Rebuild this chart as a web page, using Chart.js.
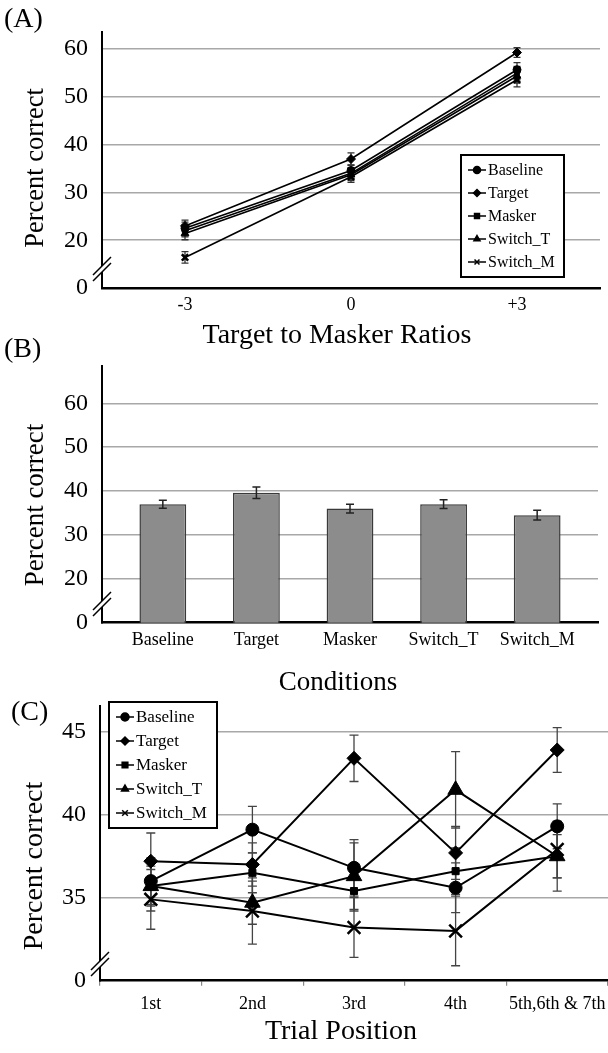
<!DOCTYPE html>
<html>
<head>
<meta charset="utf-8">
<script src="https://cdn.jsdelivr.net/npm/chart.js@4.4.0/dist/chart.umd.min.js"></script>
<style>
  body { margin: 0; background: #fff; }
  #page { position: relative; width: 608px; height: 1053px; overflow: hidden; font-family: "Liberation Serif", "Times New Roman", serif; color: #000; }
  canvas { position: absolute; left: 0; }
  .tag { position: absolute; font-size: 28px; line-height: 32px; }
  .xtitle { position: absolute; width: 400px; text-align: center; white-space: nowrap; }
  .ytitle { position: absolute; width: 240px; height: 32px; line-height: 32px; text-align: center; white-space: nowrap; transform: rotate(-90deg); }
</style>
</head>
<body>
<div id="page">
  <canvas id="chartA" width="608" height="360" style="top:0px"></canvas>
  <canvas id="chartB" width="608" height="365" style="top:345px"></canvas>
  <canvas id="chartC" width="608" height="363" style="top:690px"></canvas>
  <div class="tag" style="left:4px; top:2px">(A)</div>
  <div class="tag" style="left:4px; top:332px">(B)</div>
  <div class="tag" style="left:11px; top:695px">(C)</div>
  <div class="ytitle" style="left:-86px; top:152px; font-size:26.5px">Percent correct</div>
  <div class="ytitle" style="left:-86px; top:489px; font-size:27px">Percent correct</div>
  <div class="ytitle" style="left:-87px; top:850px; font-size:28px">Percent correct</div>
  <div class="xtitle" style="left:137px; top:318px; font-size:28px; line-height:32px">Target to Masker Ratios</div>
  <div class="xtitle" style="left:138px; top:665px; font-size:27px; line-height:32px">Conditions</div>
  <div class="xtitle" style="left:141px; top:1014px; font-size:28px; line-height:32px">Trial Position</div>
</div>
<script>
const serif = "'Liberation Serif', 'Times New Roman', serif";
Chart.defaults.font.family = serif;
Chart.defaults.color = '#000';

// shared
const seriesNames = ['Baseline', 'Target', 'Masker', 'Switch_T', 'Switch_M'];
const markerStyles = ['circle', 'rectRot', 'rect', 'triangle', 'crossRot'];

// (A) percent correct by target to masker ratio
const ratioLabels = ['-3', '0', '+3'];
const ratioBaseline = [22.5, 34.6, 55.7];
const ratioTarget = [23.0, 37.0, 59.3];
const ratioMasker = [22.0, 34.0, 55.0];
const ratioSwitchT = [21.4, 33.7, 54.4];
const ratioSwitchM = [16.4, 33.3, 53.6];
const ratioErrBaseline = [1.3, 1.2, 1.5];
const ratioErrTarget = [1.2, 1.3, 1.0];
const ratioErrMasker = [1.3, 1.2, 1.4];
const ratioErrSwitchT = [1.3, 1.2, 1.5];
const ratioErrSwitchM = [1.2, 1.2, 1.5];
const ratioTicks = [10, 20, 30, 40, 50, 60];
const ratioTickText = ['0', '20', '30', '40', '50', '60'];

// (B) percent correct by condition
const conditionLabels = ['Baseline', 'Target', 'Masker', 'Switch_T', 'Switch_M'];
const conditionValues = [37.0, 39.6, 36.0, 37.0, 34.5];
const conditionErr = [0.9, 1.3, 1.0, 1.0, 1.1];
const conditionTicks = [10, 20, 30, 40, 50, 60];
const conditionTickText = ['0', '20', '30', '40', '50', '60'];

// (C) percent correct by trial position
const trialLabels = ['1st', '2nd', '3rd', '4th', '5th,6th & 7th'];
const trialBaseline = [36.0, 39.1, 36.8, 35.6, 39.3];
const trialTarget = [37.2, 37.0, 43.4, 37.7, 43.9];
const trialMasker = [35.7, 36.5, 35.4, 36.6, 37.5];
const trialSwitchT = [35.7, 34.7, 36.3, 41.5, 37.5];
const trialSwitchM = [34.9, 34.2, 33.2, 33.0, 37.9];
const trialErrBaseline = [1.4, 1.4, 1.7, 1.5, 1.35];
const trialErrTarget = [1.7, 1.3, 1.4, 1.6, 1.35];
const trialErrMasker = [1.2, 1.2, 1.2, 1.4, 1.3];
const trialErrSwitchT = [1.5, 1.3, 2.0, 2.3, 2.1];
const trialErrSwitchM = [1.8, 2.0, 1.8, 2.1, 1.7];
const trialTicks = [30, 35, 40, 45];
const trialTickText = ['0', '35', '40', '45'];

// marker radius per point style, small for (A), large for (C)
const markerSizeA = { circle: 4, rectRot: 4.5, rect: 3.3, triangle: 4.5, crossRot: 4.5 };
const markerSizeC = { circle: 6.5, rectRot: 7, rect: 5, triangle: 9, crossRot: 9 };

// error bars drawn from dataset.errors through the y scale
const errorBars = {
  id: 'errorBars',
  draw(chart, opts) {
    const ctx = chart.ctx;
    const yScale = chart.scales.y;
    ctx.save();
    ctx.strokeStyle = opts.color;
    ctx.lineWidth = opts.width;
    chart.data.datasets.forEach((ds, i) => {
      if (!ds.errors) return;
      chart.getDatasetMeta(i).data.forEach((el, j) => {
        const raw = ds.data[j];
        const v = typeof raw === 'object' ? raw.y : raw;
        const top = yScale.getPixelForValue(v + ds.errors[j]);
        const bot = yScale.getPixelForValue(v - ds.errors[j]);
        const x = el.x;
        const c = opts.cap / 2;
        ctx.beginPath();
        ctx.moveTo(x, top); ctx.lineTo(x, bot);
        ctx.moveTo(x - c, top); ctx.lineTo(x + c, top);
        ctx.moveTo(x - c, bot); ctx.lineTo(x + c, bot);
        ctx.stroke();
      });
    });
    ctx.restore();
  },
  beforeDatasetsDraw(chart, args, opts) { if (opts.layer === 'below') this.draw(chart, opts); },
  afterDatasetsDraw(chart, args, opts) { if (opts.layer !== 'below') this.draw(chart, opts); }
};

// the "//" mark on the y axis
const axisBreak = {
  id: 'axisBreak',
  afterDraw(chart, args, opts) {
    const ctx = chart.ctx;
    const x = chart.chartArea.left;
    const cy = chart.scales.y.getPixelForValue(opts.at);
    ctx.save();
    ctx.fillStyle = '#fff';
    ctx.beginPath();
    ctx.moveTo(x - 8, cy + 6); ctx.lineTo(x + 8, cy - 10);
    ctx.lineTo(x + 8, cy - 4); ctx.lineTo(x - 8, cy + 12);
    ctx.closePath();
    ctx.fill();
    ctx.strokeStyle = '#000';
    ctx.lineWidth = 1.5;
    ctx.beginPath();
    ctx.moveTo(x - 9, cy + 7); ctx.lineTo(x + 9, cy - 11);
    ctx.moveTo(x - 9, cy + 13); ctx.lineTo(x + 9, cy - 5);
    ctx.stroke();
    ctx.restore();
  }
};

// boxed legend with line + marker samples
const boxLegend = {
  id: 'boxLegend',
  afterDraw(chart, args, opts) {
    if (!opts.show) return;
    const ctx = chart.ctx;
    const sets = chart.data.datasets;
    const h = opts.pad * 2 + opts.row * sets.length;
    ctx.save();
    ctx.fillStyle = '#fff';
    ctx.fillRect(opts.left, opts.top, opts.width, h);
    ctx.strokeStyle = '#000';
    ctx.lineWidth = 2;
    ctx.strokeRect(opts.left, opts.top, opts.width, h);
    ctx.font = opts.size + 'px ' + serif;
    ctx.textBaseline = 'middle';
    sets.forEach((ds, i) => {
      const y = opts.top + opts.pad + opts.row * (i + 0.5);
      const x0 = opts.left + 7;
      ctx.strokeStyle = '#000';
      ctx.fillStyle = '#000';
      ctx.lineWidth = 1.5;
      ctx.beginPath(); ctx.moveTo(x0, y); ctx.lineTo(x0 + 18, y); ctx.stroke();
      Chart.helpers.drawPoint(ctx, { pointStyle: ds.pointStyle, radius: opts.radius, rotation: 0, borderWidth: 1.5 }, x0 + 9, y);
      ctx.fillText(ds.label, x0 + 20, y + 1);
    });
    ctx.restore();
  }
};

function lineSets(values, errs, sizes, width) {
  return values.map((vals, i) => ({
    label: seriesNames[i],
    data: vals,
    errors: errs[i],
    borderColor: '#000',
    borderWidth: width,
    backgroundColor: '#000',
    pointStyle: markerStyles[i],
    pointRadius: sizes[markerStyles[i]],
    pointBackgroundColor: '#000',
    pointBorderColor: '#000',
    pointBorderWidth: markerStyles[i] === 'crossRot' ? 2.5 : 1,
    tension: 0
  }));
}

function yAxis(min, max, ticks, text, width, tickSize) {
  return {
    type: 'linear',
    min: min,
    max: max,
    afterBuildTicks: ax => { ax.ticks = ticks.map(v => ({ value: v })); },
    afterFit: ax => { ax.width = width; ax.paddingTop = 0; ax.paddingBottom = 0; },
    grid: {
      color: c => (c.tick && c.tick.value === min ? 'rgba(0,0,0,0)' : '#a8a8a8'),
      lineWidth: 1.5,
      drawTicks: false
    },
    border: { color: '#000', width: 2 },
    ticks: {
      callback: (v, i) => text[i],
      font: { size: tickSize },
      color: '#000',
      padding: 14
    }
  };
}

// (A)
new Chart(document.getElementById('chartA'), {
  type: 'line',
  data: {
    labels: ratioLabels,
    datasets: lineSets(
      [ratioBaseline, ratioTarget, ratioMasker, ratioSwitchT, ratioSwitchM],
      [ratioErrBaseline, ratioErrTarget, ratioErrMasker, ratioErrSwitchT, ratioErrSwitchM],
      markerSizeA, 1.6)
  },
  options: {
    responsive: false,
    animation: false,
    devicePixelRatio: 1,
    layout: { autoPadding: false, padding: { top: 32, right: 8, left: 0, bottom: 0 } },
    plugins: {
      legend: { display: false },
      tooltip: { enabled: false },
      errorBars: { color: '#333', width: 1.3, cap: 7, layer: 'below' },
      axisBreak: { at: 14.2 },
      boxLegend: { show: true, left: 461, top: 155, width: 103, row: 23, pad: 3.5, size: 16, radius: 3.5 }
    },
    scales: {
      x: {
        offset: true,
        afterFit: ax => { ax.height = 72; ax.paddingLeft = 0; ax.paddingRight = 0; },
        grid: { display: true, drawOnChartArea: false, drawTicks: false, offset: true },
        border: { color: '#000', width: 2.5 },
        ticks: { font: { size: 18 }, color: '#000', padding: 6 }
      },
      y: yAxis(10, 63.6, ratioTicks, ratioTickText, 102, 24)
    }
  },
  plugins: [errorBars, axisBreak, boxLegend]
});

// (B)
new Chart(document.getElementById('chartB'), {
  type: 'bar',
  data: {
    datasets: [{
      label: 'Percent correct',
      data: conditionValues.map((v, i) => ({ x: i, y: v })),
      errors: conditionErr,
      backgroundColor: '#8c8c8c',
      borderColor: '#3a3a3a',
      borderWidth: 1.5,
      borderSkipped: false,
      barPercentage: 0.5,
      categoryPercentage: 1
    }]
  },
  options: {
    responsive: false,
    animation: false,
    devicePixelRatio: 1,
    layout: { autoPadding: false, padding: { top: 21, right: 10, left: 0, bottom: 0 } },
    plugins: {
      legend: { display: false },
      tooltip: { enabled: false },
      errorBars: { color: '#222', width: 1.5, cap: 8, layer: 'above' },
      axisBreak: { at: 14.5 },
      boxLegend: { show: false }
    },
    scales: {
      x: {
        type: 'linear',
        offset: false,
        min: -0.65,
        max: 4.65,
        afterBuildTicks: ax => { ax.ticks = conditionLabels.map((c, i) => ({ value: i })); },
        afterFit: ax => { ax.height = 87.3; ax.paddingLeft = 0; ax.paddingRight = 0; },
        grid: { display: true, drawOnChartArea: false, drawTicks: false },
        border: { color: '#000', width: 2.5 },
        ticks: { callback: (v, i) => conditionLabels[i], font: { size: 18 }, color: '#000', padding: 7, maxRotation: 0, autoSkip: false }
      },
      y: yAxis(10, 68.5, conditionTicks, conditionTickText, 102, 24)
    }
  },
  plugins: [errorBars, axisBreak, boxLegend]
});

// (C)
new Chart(document.getElementById('chartC'), {
  type: 'line',
  data: {
    labels: trialLabels,
    datasets: lineSets(
      [trialBaseline, trialTarget, trialMasker, trialSwitchT, trialSwitchM],
      [trialErrBaseline, trialErrTarget, trialErrMasker, trialErrSwitchT, trialErrSwitchM],
      markerSizeC, 2)
  },
  options: {
    responsive: false,
    animation: false,
    devicePixelRatio: 1,
    layout: { autoPadding: false, padding: { top: 16, right: 0, left: 0, bottom: 0 } },
    plugins: {
      legend: { display: false },
      tooltip: { enabled: false },
      errorBars: { color: '#444', width: 1.3, cap: 9, layer: 'below' },
      axisBreak: { at: 31.07 },
      boxLegend: { show: true, left: 109, top: 12, width: 108, row: 24, pad: 3, size: 17, radius: 4 }
    },
    scales: {
      x: {
        offset: true,
        afterFit: ax => { ax.height = 72.3; ax.paddingLeft = 0; ax.paddingRight = 0; },
        grid: { display: true, drawOnChartArea: false, drawTicks: true, tickLength: 5, offset: true, color: '#888', lineWidth: 1.2 },
        border: { color: '#000', width: 2.5 },
        ticks: { font: { size: 18 }, color: '#000', padding: 8, maxRotation: 0, autoSkip: false }
      },
      y: yAxis(30, 46.55, trialTicks, trialTickText, 100, 24)
    }
  },
  plugins: [errorBars, axisBreak, boxLegend]
});
</script>
</body>
</html>
